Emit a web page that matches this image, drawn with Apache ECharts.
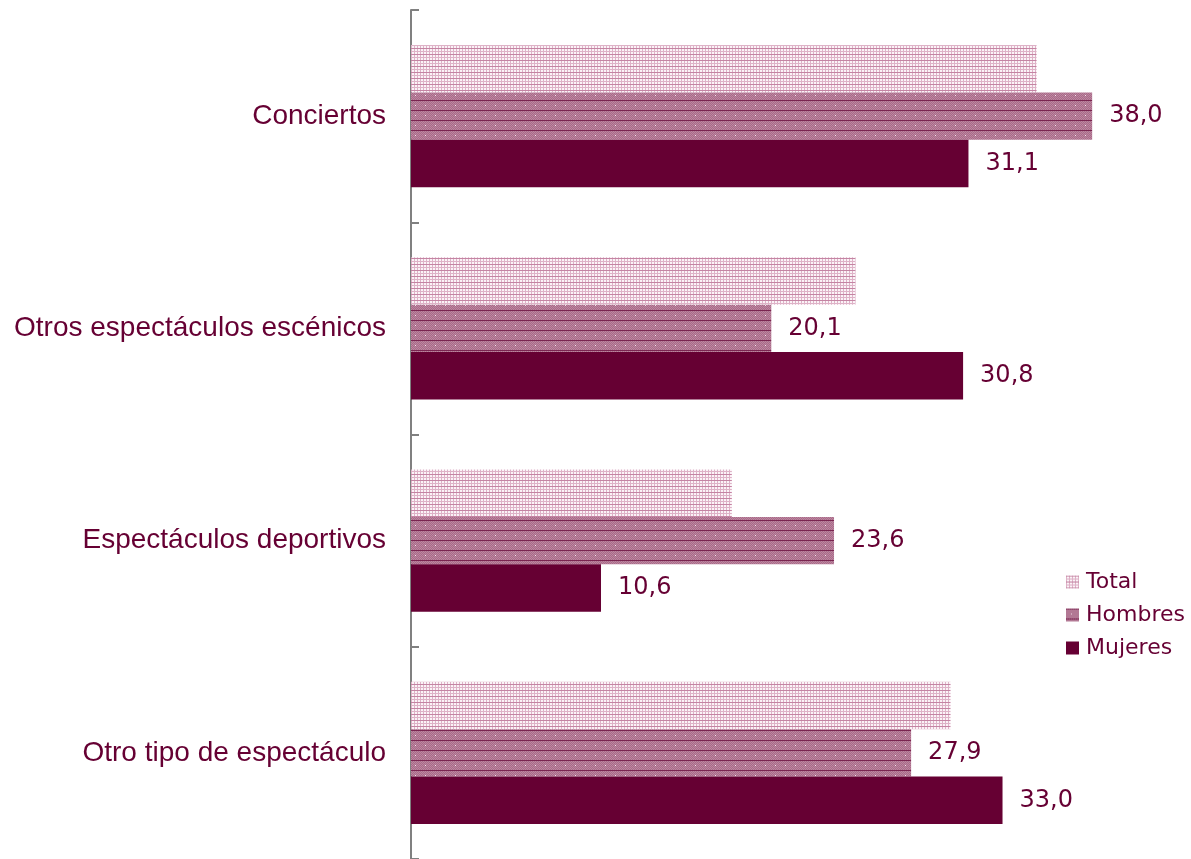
<!DOCTYPE html>
<html>
<head>
<meta charset="utf-8">
<script src="https://cdn.jsdelivr.net/npm/echarts@6/dist/echarts.min.js"></script>
<style>
  html, body { margin: 0; padding: 0; background: #ffffff; }
  #chart { width: 1191px; height: 859px; }
</style>
</head>
<body>
<div id="chart"></div>
<script>
var categories = ['Conciertos', 'Otros espectáculos escénicos', 'Espectáculos deportivos', 'Otro tipo de espectáculo']
var seriesNames = ['Total', 'Hombres', 'Mujeres']
var totalValues = [34.9, 24.8, 17.9, 30.1]
var hombresValues = [38.0, 20.1, 23.6, 27.9]
var mujeresValues = [31.1, 30.8, 10.6, 33.0]

var wine = '#660033'

// small tiled canvases for the hatched fills
function makeTile(w, h, draw) {
  var c = document.createElement('canvas')
  c.width = w
  c.height = h
  draw(c.getContext('2d'))
  return { image: c, repeat: 'repeat' }
}

var totalFill = makeTile(6, 6, function(ctx) {
  ctx.fillStyle = '#fbf3f7'
  ctx.fillRect(0, 0, 6, 6)
  ctx.fillStyle = '#deb2c7'
  ctx.fillRect(0, 0, 1, 6)
  ctx.fillRect(3, 0, 1, 6)
  ctx.fillRect(0, 3, 6, 1)
  ctx.fillStyle = '#c484a3'
  ctx.fillRect(0, 0, 6, 1)
})

var hombresFill = makeTile(10, 10, function(ctx) {
  for (var y = 0; y < 10; y++) {
    for (var x = 0; x < 10; x++) {
      ctx.fillStyle = (x + y) % 2 ? '#aa6a88' : '#bb86a0'
      ctx.fillRect(x, y, 1, 1)
    }
  }
  ctx.fillStyle = '#7a2450'
  ctx.fillRect(0, 0, 10, 1)
  ctx.fillStyle = '#f4e6ee'
  ctx.fillRect(5, 5, 1, 1)
})

function fmt(p) {
  return p.value.toFixed(1).replace('.', ',')
}

var valueLabel = {
  show: true,
  position: 'right',
  distance: 17,
  color: wine,
  fontFamily: 'DejaVu Sans',
  fontSize: 24,
  formatter: fmt
}

var chart = echarts.init(document.getElementById('chart'))
chart.setOption({
  animation: false,
  grid: { left: 411, top: 10, width: 717, height: 851 },
  legend: {
    orient: 'vertical',
    left: 1061,
    top: 566,
    itemWidth: 13,
    itemHeight: 13,
    itemGap: 11,
    icon: 'rect',
    textStyle: { color: wine, fontFamily: 'DejaVu Sans', fontSize: 22, padding: [0, 0, 0, 2] },
    data: seriesNames
  },
  xAxis: {
    type: 'value',
    min: 0,
    max: 40,
    show: false,
    splitLine: { show: false }
  },
  yAxis: {
    type: 'category',
    inverse: true,
    data: categories,
    axisLine: { show: true, lineStyle: { color: '#808080', width: 2 } },
    axisTick: { show: true, inside: true, length: 8, lineStyle: { color: '#808080', width: 2 } },
    axisLabel: {
      color: wine,
      fontFamily: 'Liberation Sans',
      fontSize: 28,
      margin: 25
    }
  },
  series: [
    {
      name: 'Total',
      type: 'bar',
      barGap: '0%',
      barCategoryGap: '33%',
      itemStyle: { color: totalFill },
      data: totalValues
    },
    {
      name: 'Hombres',
      type: 'bar',
      barGap: '0%',
      barCategoryGap: '33%',
      itemStyle: { color: hombresFill },
      label: valueLabel,
      data: hombresValues
    },
    {
      name: 'Mujeres',
      type: 'bar',
      barGap: '0%',
      barCategoryGap: '33%',
      itemStyle: { color: wine },
      label: valueLabel,
      data: mujeresValues
    }
  ]
})
</script>
</body>
</html>
